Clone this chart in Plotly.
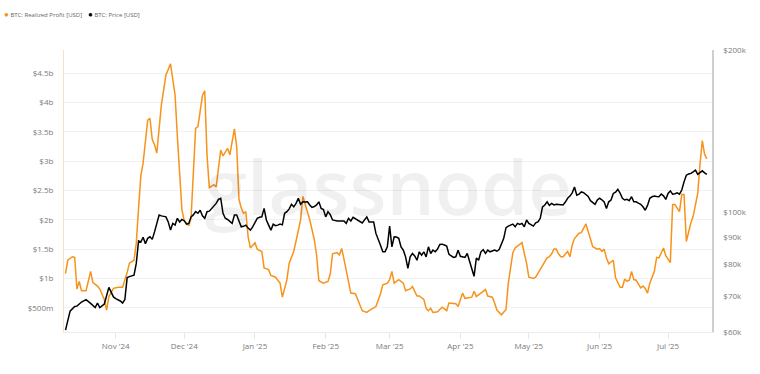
import math
import plotly.graph_objects as go

# ---------------- data ----------------
profit_dates = [
    "2024-10-10","2024-10-11","2024-10-13","2024-10-14","2024-10-15","2024-10-16","2024-10-17","2024-10-19",
    "2024-10-21","2024-10-22","2024-10-24","2024-10-25","2024-10-27","2024-10-28","2024-10-29","2024-10-31",
    "2024-11-02","2024-11-04","2024-11-06","2024-11-07","2024-11-09","2024-11-10","2024-11-11","2024-11-12",
    "2024-11-13","2024-11-14","2024-11-15","2024-11-16","2024-11-17","2024-11-18","2024-11-19","2024-11-21",
    "2024-11-23","2024-11-25","2024-11-27","2024-11-28","2024-11-30","2024-12-01","2024-12-03","2024-12-04",
    "2024-12-06","2024-12-07","2024-12-09","2024-12-10","2024-12-11","2024-12-12","2024-12-14","2024-12-15",
    "2024-12-17","2024-12-18","2024-12-20","2024-12-21","2024-12-23","2024-12-24","2024-12-25","2024-12-26",
    "2024-12-27","2024-12-28","2024-12-29","2024-12-30","2025-01-01","2025-01-02","2025-01-04","2025-01-05",
    "2025-01-07","2025-01-08","2025-01-10","2025-01-12","2025-01-13","2025-01-15","2025-01-16","2025-01-18",
    "2025-01-20","2025-01-21","2025-01-22","2025-01-23","2025-01-25","2025-01-27","2025-01-28","2025-01-29",
    "2025-01-31","2025-02-02","2025-02-03","2025-02-04","2025-02-06","2025-02-07","2025-02-08","2025-02-09",
    "2025-02-11","2025-02-12","2025-02-14","2025-02-16","2025-02-17","2025-02-19","2025-02-20","2025-02-23",
    "2025-02-25","2025-02-26","2025-02-28","2025-03-01","2025-03-02","2025-03-03","2025-03-05","2025-03-07",
    "2025-03-08","2025-03-10","2025-03-11","2025-03-13","2025-03-14","2025-03-16","2025-03-17","2025-03-18",
    "2025-03-19","2025-03-20","2025-03-22","2025-03-24","2025-03-26","2025-03-27","2025-03-29","2025-03-30",
    "2025-03-31","2025-04-01","2025-04-02","2025-04-03","2025-04-04","2025-04-06","2025-04-07","2025-04-08",
    "2025-04-10","2025-04-12","2025-04-13","2025-04-15","2025-04-16","2025-04-17","2025-04-19","2025-04-21",
    "2025-04-22","2025-04-23","2025-04-24","2025-04-25","2025-04-27","2025-04-28","2025-04-29","2025-04-30",
    "2025-05-01","2025-05-03","2025-05-04","2025-05-06","2025-05-07","2025-05-09","2025-05-10","2025-05-11",
    "2025-05-12","2025-05-13","2025-05-14","2025-05-15","2025-05-16","2025-05-18","2025-05-19","2025-05-20",
    "2025-05-21","2025-05-23","2025-05-24","2025-05-25","2025-05-26","2025-05-27","2025-05-28","2025-05-29",
    "2025-05-31","2025-06-01","2025-06-02","2025-06-03","2025-06-04","2025-06-05","2025-06-07","2025-06-08",
    "2025-06-10","2025-06-11","2025-06-12","2025-06-13","2025-06-14","2025-06-15","2025-06-16","2025-06-17",
    "2025-06-19","2025-06-20","2025-06-21","2025-06-22","2025-06-23","2025-06-25","2025-06-26","2025-06-27",
    "2025-06-29","2025-06-30","2025-07-02","2025-07-03","2025-07-04","2025-07-06","2025-07-07","2025-07-08",
    "2025-07-09","2025-07-10","2025-07-11","2025-07-12","2025-07-13","2025-07-14","2025-07-15","2025-07-16",
    "2025-07-17","2025-07-18",
]
realized_profit_bn = [
    1.08,1.31,1.37,1.36,0.82,0.95,0.79,0.79,
    1.12,0.93,0.87,0.82,0.64,0.46,0.69,0.83,
    0.85,0.85,1.10,1.26,1.31,1.60,2.20,2.75,
    2.97,3.39,3.70,3.73,3.37,3.28,3.14,3.96,
    4.47,4.66,4.13,3.42,2.17,1.99,1.90,2.03,
    3.56,3.59,4.12,4.20,3.10,2.55,2.60,2.56,
    3.19,3.09,3.22,3.11,3.55,3.25,2.35,2.20,
    2.11,2.14,1.71,1.52,1.61,1.50,1.46,1.18,
    1.15,1.05,1.02,0.92,0.68,0.98,1.26,1.46,
    1.83,2.00,2.40,2.26,2.00,1.66,1.40,0.96,
    0.92,0.95,1.08,1.42,1.44,1.40,1.51,1.33,
    0.98,0.75,0.74,0.55,0.45,0.42,0.45,0.52,
    0.74,0.89,0.92,0.98,1.12,0.92,0.98,0.92,
    0.79,0.82,0.86,0.70,0.70,0.64,0.49,0.45,
    0.49,0.42,0.43,0.51,0.45,0.58,0.58,0.57,
    0.52,0.64,0.75,0.66,0.67,0.68,0.78,0.69,
    0.75,0.81,0.70,0.68,0.58,0.46,0.38,0.47,
    0.92,1.15,1.44,1.52,1.59,1.61,1.43,1.26,
    1.02,1.00,1.02,1.15,1.22,1.35,1.37,1.42,
    1.50,1.50,1.42,1.37,1.37,1.46,1.37,1.57,
    1.68,1.77,1.78,1.86,1.93,1.80,1.66,1.54,
    1.50,1.51,1.46,1.50,1.35,1.25,1.31,1.01,
    0.85,0.85,0.99,0.95,0.97,1.12,0.98,0.97,
    0.84,0.87,0.83,0.75,0.92,1.12,1.36,1.35,
    1.52,1.39,1.27,2.26,2.26,2.14,2.43,2.43,
    1.63,1.80,1.95,2.06,2.28,2.45,2.95,3.35,
    3.12,3.04,
]

price_dates = [
    "2024-10-10","2024-10-11","2024-10-12","2024-10-14","2024-10-15","2024-10-17","2024-10-19","2024-10-21",
    "2024-10-22","2024-10-23","2024-10-24","2024-10-25","2024-10-27","2024-10-28","2024-10-29","2024-10-31",
    "2024-11-01","2024-11-03","2024-11-04","2024-11-05","2024-11-06","2024-11-07","2024-11-09","2024-11-10",
    "2024-11-11","2024-11-12","2024-11-13","2024-11-14","2024-11-15","2024-11-16","2024-11-17","2024-11-18",
    "2024-11-19","2024-11-20","2024-11-21","2024-11-22","2024-11-23","2024-11-24","2024-11-25","2024-11-26",
    "2024-11-27","2024-11-28","2024-11-29","2024-11-30","2024-12-01","2024-12-02","2024-12-03","2024-12-04",
    "2024-12-05","2024-12-06","2024-12-07","2024-12-08","2024-12-09","2024-12-10","2024-12-11","2024-12-12",
    "2024-12-13","2024-12-14","2024-12-15","2024-12-16","2024-12-17","2024-12-18","2024-12-19","2024-12-20",
    "2024-12-21","2024-12-22","2024-12-23","2024-12-24","2024-12-25","2024-12-26","2024-12-27","2024-12-28",
    "2024-12-29","2024-12-30","2024-12-31","2025-01-01","2025-01-02","2025-01-03","2025-01-04","2025-01-05",
    "2025-01-06","2025-01-07","2025-01-08","2025-01-09","2025-01-10","2025-01-11","2025-01-12","2025-01-13",
    "2025-01-14","2025-01-15","2025-01-16","2025-01-17","2025-01-18","2025-01-19","2025-01-20","2025-01-21",
    "2025-01-22","2025-01-23","2025-01-24","2025-01-25","2025-01-26","2025-01-27","2025-01-28","2025-01-29",
    "2025-01-30","2025-01-31","2025-02-01","2025-02-02","2025-02-03","2025-02-04","2025-02-06","2025-02-09",
    "2025-02-10","2025-02-11","2025-02-12","2025-02-13","2025-02-15","2025-02-17","2025-02-19","2025-02-20",
    "2025-02-22","2025-02-23","2025-02-25","2025-02-26","2025-02-27","2025-02-28","2025-03-01","2025-03-02",
    "2025-03-03","2025-03-04","2025-03-05","2025-03-06","2025-03-07","2025-03-08","2025-03-09","2025-03-10",
    "2025-03-11","2025-03-12","2025-03-13","2025-03-14","2025-03-15","2025-03-16","2025-03-17","2025-03-18",
    "2025-03-19","2025-03-20","2025-03-21","2025-03-22","2025-03-23","2025-03-24","2025-03-25","2025-03-26",
    "2025-03-27","2025-03-28","2025-03-29","2025-03-30","2025-03-31","2025-04-01","2025-04-02","2025-04-03",
    "2025-04-04","2025-04-05","2025-04-06","2025-04-07","2025-04-08","2025-04-09","2025-04-10","2025-04-11",
    "2025-04-12","2025-04-13","2025-04-14","2025-04-15","2025-04-16","2025-04-17","2025-04-18","2025-04-20",
    "2025-04-21","2025-04-22","2025-04-24","2025-04-25","2025-04-26","2025-04-27","2025-04-28","2025-04-29",
    "2025-04-30","2025-05-01","2025-05-02","2025-05-03","2025-05-04","2025-05-05","2025-05-06","2025-05-07",
    "2025-05-08","2025-05-09","2025-05-10","2025-05-11","2025-05-12","2025-05-13","2025-05-14","2025-05-15",
    "2025-05-16","2025-05-17","2025-05-18","2025-05-19","2025-05-20","2025-05-21","2025-05-22","2025-05-23",
    "2025-05-24","2025-05-25","2025-05-26","2025-05-27","2025-05-28","2025-05-29","2025-05-30","2025-05-31",
    "2025-06-01","2025-06-02","2025-06-03","2025-06-04","2025-06-05","2025-06-06","2025-06-07","2025-06-08",
    "2025-06-09","2025-06-10","2025-06-11","2025-06-12","2025-06-13","2025-06-14","2025-06-15","2025-06-16",
    "2025-06-17","2025-06-18","2025-06-19","2025-06-20","2025-06-21","2025-06-22","2025-06-23","2025-06-24",
    "2025-06-25","2025-06-26","2025-06-27","2025-06-28","2025-06-29","2025-06-30","2025-07-01","2025-07-02",
    "2025-07-03","2025-07-04","2025-07-05","2025-07-06","2025-07-07","2025-07-08","2025-07-09","2025-07-10",
    "2025-07-11","2025-07-12","2025-07-13","2025-07-14","2025-07-15","2025-07-16","2025-07-17","2025-07-18",
]
price_k = [
    60.5,63.1,65.6,66.9,67.0,68.2,68.9,67.8,
    67.3,66.6,67.9,66.6,67.6,70.2,72.6,69.7,
    69.2,68.5,67.9,68.9,75.7,76.0,76.5,80.4,
    88.5,88.1,89.9,87.5,89.5,90.1,89.1,92.0,
    95.4,98.9,98.5,98.3,98.1,96.0,92.7,95.4,
    94.7,97.5,96.0,97.0,96.5,95.1,95.4,98.1,
    98.9,100.3,99.6,100.9,98.5,97.5,100.3,100.5,
    101.7,102.5,103.9,105.7,106.2,99.6,97.5,97.0,
    96.0,95.4,98.9,98.9,96.4,94.0,94.2,94.7,
    93.5,92.7,94.0,95.5,97.5,97.9,98.1,101.7,
    96.8,94.7,92.7,95.1,94.5,94.7,95.1,94.8,
    99.6,100.3,101.5,103.5,102.4,103.9,106.2,103.5,
    104.6,104.5,104.6,103.2,102.1,102.5,103.2,104.6,
    101.7,101.2,98.1,100.3,99.0,96.8,96.4,96.4,
    95.4,97.5,96.4,97.9,96.8,95.6,98.1,96.0,
    96.0,91.4,86.9,84.5,84.5,86.3,94.3,86.3,
    90.1,90.0,89.5,86.3,85.1,82.7,78.7,82.7,
    83.9,83.0,81.5,84.5,83.3,84.5,82.7,86.3,
    83.9,85.1,84.5,85.5,87.2,87.3,87.0,86.6,
    83.6,83.0,82.5,82.7,85.1,82.9,82.7,82.5,
    83.9,81.3,78.2,76.1,82.3,81.5,84.5,85.3,
    83.9,85.1,84.5,84.8,85.1,84.7,85.3,89.5,
    93.7,94.3,95.1,94.0,95.4,95.0,95.4,94.0,
    96.8,95.4,95.0,94.3,95.6,96.0,97.5,102.4,
    103.2,104.6,103.0,103.9,103.2,103.5,103.4,103.2,
    103.2,104.5,106.2,107.2,108.7,111.4,107.6,108.1,
    109.1,108.8,108.1,107.0,105.1,104.3,103.5,105.4,
    106.2,105.5,104.6,101.7,104.6,105.4,108.4,109.0,
    110.3,108.5,106.2,105.4,105.7,105.1,106.9,104.6,
    104.6,104.0,103.5,102.4,100.9,103.0,106.2,106.9,
    107.2,107.0,106.9,108.1,107.3,105.7,108.4,109.6,
    108.1,108.3,108.7,108.1,110.0,113.9,117.2,117.8,
    118.1,118.9,119.8,117.6,118.4,119.4,118.4,117.6,
]

profit_tick_vals = [0.5, 1, 1.5, 2, 2.5, 3, 3.5, 4, 4.5]
profit_tick_text = ["$500m", "$1b", "$1.5b", "$2b", "$2.5b", "$3b", "$3.5b", "$4b", "$4.5b"]
price_tick_vals = [60, 70, 80, 90, 100, 200]
price_tick_text = ["$60k", "$70k", "$80k", "$90k", "$100k", "$200k"]
month_ticks = ["2024-11-01", "2024-12-01", "2025-01-01", "2025-02-01", "2025-03-01",
               "2025-04-01", "2025-05-01", "2025-06-01", "2025-07-01"]
month_labels = ["Nov '24", "Dec '24", "Jan '25", "Feb '25", "Mar '25",
                "Apr '25", "May '25", "Jun '25", "Jul '25"]
series_names = ["BTC: Realized Profit [USD]", "BTC: Price [USD]"]

ORANGE = "#F7931A"
FONT = "Open Sans"
TICK_FONT = dict(family=FONT, size=8, color="#7a7a7a")

fig = go.Figure()
fig.add_trace(go.Scatter(
    x=profit_dates, y=realized_profit_bn, mode="lines", name=series_names[0],
    line=dict(color=ORANGE, width=1.5), yaxis="y", showlegend=False,
))
fig.add_trace(go.Scatter(
    x=price_dates, y=price_k, mode="lines", name=series_names[1],
    line=dict(color="#000000", width=1.5), yaxis="y2", showlegend=False,
))

fig.update_layout(
    width=760, height=374,
    margin=dict(l=64, r=48, t=50, b=42),
    paper_bgcolor="white", plot_bgcolor="white",
    font=dict(family=FONT),
    xaxis=dict(
        type="date", range=["2024-10-09 08:00", "2025-07-20 06:00"],
        tickvals=month_ticks, ticktext=month_labels, tickfont=TICK_FONT,
        showgrid=False, showline=True, linecolor="#ececec", linewidth=1,
        ticks="outside", ticklen=6, tickcolor="#e6e6e6", zeroline=False,
    ),
    yaxis=dict(
        range=[0.086, 4.897], tickvals=profit_tick_vals, ticktext=profit_tick_text,
        tickfont=TICK_FONT, showgrid=True, gridcolor="#f1f1f1", gridwidth=1,
        showline=True, linecolor="#f6e2c2", linewidth=1, zeroline=False,
        ticks="outside", ticklen=8, tickcolor="rgba(0,0,0,0)",
    ),
    yaxis2=dict(
        overlaying="y", side="right", type="log",
        range=[math.log10(60), math.log10(200)],
        tickvals=price_tick_vals, ticktext=price_tick_text, tickfont=TICK_FONT,
        showgrid=False, showline=True, linecolor="#cfcfcf", linewidth=1.5,
        zeroline=False, ticks="outside", ticklen=8, tickcolor="rgba(0,0,0,0)",
    ),
)

# watermark
fig.add_annotation(
    text="glassnode", xref="paper", yref="paper", x=0.50, y=0.52,
    showarrow=False, font=dict(family=FONT, size=76, color="rgba(0,0,0,0.06)", weight=600),
)

# legend (dot + label)
legend_items = [(series_names[0], ORANGE, -0.095), (series_names[1], "#000000", 0.034)]
for name, col, xpos in legend_items:
    fig.add_annotation(
        text=f"<span style='color:{col};font-size:8px'>●</span> {name}",
        xref="paper", yref="paper", x=xpos, y=1.131, xanchor="left", yanchor="middle",
        showarrow=False, font=dict(family=FONT, size=6, color="#666666"),
    )

fig.write_html("out.html", config={"displayModeBar": False},
               post_script="document.body.style.margin='0';")
